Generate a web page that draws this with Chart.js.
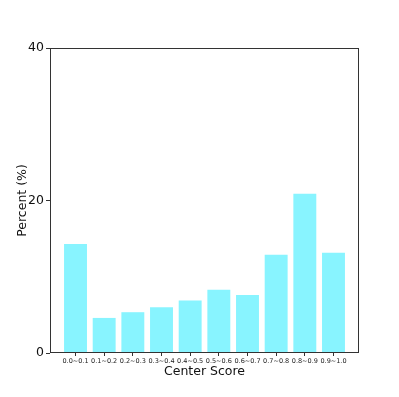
<!DOCTYPE html>
<html>
<head>
<meta charset="utf-8">
<script src="https://cdn.jsdelivr.net/npm/chart.js@4"></script>
<style>
  html, body { margin: 0; padding: 0; background: #fff; }
  #wrap { width: 399px; height: 397px; }
</style>
</head>
<body>
<div id="wrap"><canvas id="chart"></canvas></div>
<script>
// Center score histogram
const categories = ['0.0~0.1', '0.1~0.2', '0.2~0.3', '0.3~0.4', '0.4~0.5',
                    '0.5~0.6', '0.6~0.7', '0.7~0.8', '0.8~0.9', '0.9~1.0'];
const percents = [14.3, 4.6, 5.35, 6.0, 6.9, 8.3, 7.6, 12.9, 20.9, 13.15];
const yTicks = [0, 20, 40];

const FONT = 'DejaVu Sans';

// frame round the plot area, like a matplotlib axes box
const framePlugin = {
  id: 'frame',
  afterDraw(chart) {
    const a = chart.chartArea;
    const ctx = chart.ctx;
    ctx.save();
    ctx.strokeStyle = '#333';
    ctx.lineWidth = 1;
    ctx.strokeRect(Math.round(a.left) + 0.5, Math.round(a.top) + 0.5,
                   Math.round(a.right - a.left) - 1, Math.round(a.bottom - a.top) - 1);
    ctx.restore();
  }
};

const ctx = document.getElementById('chart').getContext('2d');
new Chart(ctx, {
  type: 'bar',
  data: {
    datasets: [{
      data: percents.map((v, i) => ({ x: i, y: v })),
      backgroundColor: '#88F4FF',
      borderWidth: 0,
      categoryPercentage: 1,
      barPercentage: 0.8
    }]
  },
  options: {
    responsive: true,
    maintainAspectRatio: false,
    animation: false,
    layout: { padding: { left: 15, top: 48, right: 40, bottom: 18 } },
    plugins: { legend: { display: false }, tooltip: { enabled: false } },
    scales: {
      x: {
        type: 'linear',
        offset: false,
        min: -0.89,
        max: 9.89,
        afterFit: s => { s.height = 26; },
        afterBuildTicks: s => { s.ticks = categories.map((_, i) => ({ value: i })); },
        grid: { display: true, drawOnChartArea: false, tickLength: 3, color: '#333', offset: false },
        border: { display: false },
        ticks: {
          autoSkip: false,
          maxRotation: 0,
          padding: 1,
          color: '#222',
          font: { family: FONT, size: 6.5 },
          callback: v => categories[v] ?? ''
        },
        title: {
          display: true,
          text: 'Center Score',
          color: '#111',
          font: { family: FONT, size: 12.5 },
          padding: { top: 0, bottom: 0 }
        }
      },
      y: {
        min: 0,
        max: 40,
        afterFit: s => { s.width = 35; },
        afterBuildTicks: s => { s.ticks = yTicks.map(v => ({ value: v })); },
        grid: { display: true, drawOnChartArea: false, tickLength: 4, color: '#333' },
        border: { display: false },
        ticks: {
          padding: 2,
          color: '#111',
          font: { family: FONT, size: 12.5 }
        },
        title: {
          display: true,
          text: 'Percent (%)',
          color: '#111',
          font: { family: FONT, size: 12.5 },
          padding: { top: 0, bottom: 0 }
        }
      }
    }
  },
  plugins: [framePlugin]
});
</script>
</body>
</html>
